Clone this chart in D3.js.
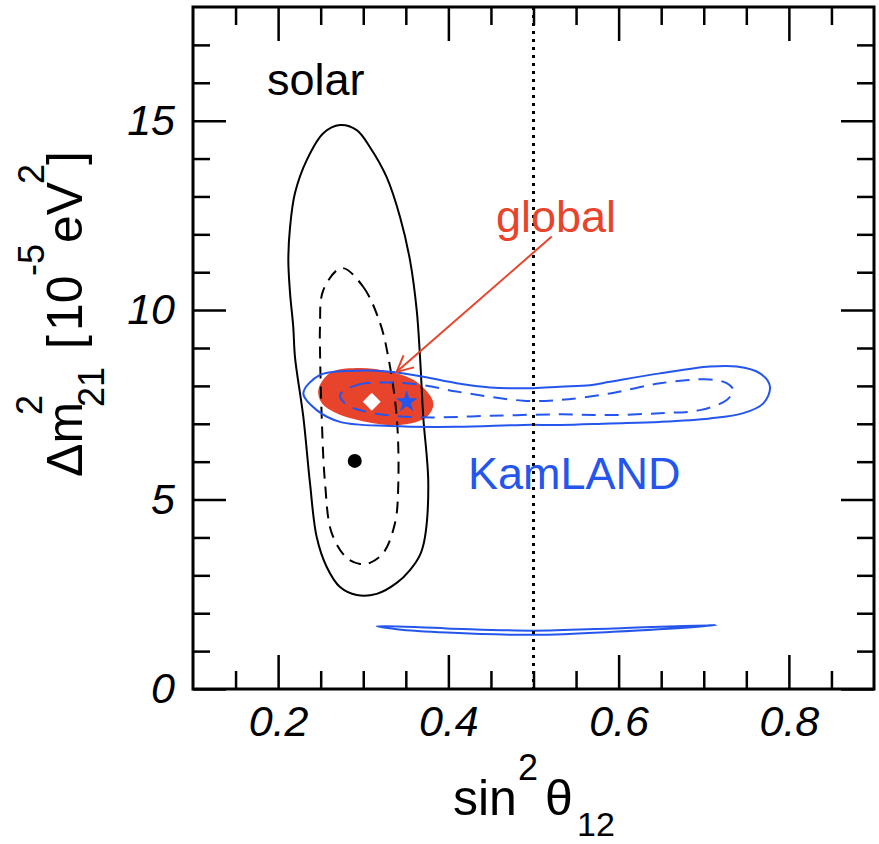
<!DOCTYPE html>
<html>
<head>
<meta charset="utf-8">
<script src="https://cdn.jsdelivr.net/npm/d3@7"></script>
<style>
body { margin: 0; background: #fff; }
svg text { font-family: "Liberation Sans", Arial, Helvetica, sans-serif; }
</style>
</head>
<body>
<svg width="879" height="844"></svg>
<script>
// tick values
var xMajor = [0.2, 0.4, 0.6, 0.8];
var xMinor = [0.15, 0.25, 0.3, 0.35, 0.45, 0.5, 0.55, 0.65, 0.7, 0.75, 0.85];
var yMajor = [0, 5, 10, 15];
var yMinor = [1, 2, 3, 4, 6, 7, 8, 9, 11, 12, 13, 14, 16, 17];

// solar contours [sin2theta, dm2]
var solarOuter = [
	[0.2727, 14.885], [0.2923, 14.75], [0.3079, 14.30], [0.3275, 13.51], [0.3432, 12.46],
	[0.3549, 11.32], [0.3628, 10.00], [0.3667, 8.76], [0.3705, 7.18], [0.3764, 5.44],
	[0.3725, 4.01], [0.3667, 3.54], [0.3549, 3.14], [0.3393, 2.80], [0.3158, 2.51],
	[0.2923, 2.48], [0.2727, 2.69], [0.2571, 3.22], [0.2453, 4.01], [0.2374, 5.44],
	[0.2296, 7.18], [0.2198, 8.76], [0.2178, 9.55], [0.2140, 10.45], [0.2120, 11.32],
	[0.2140, 12.19], [0.2198, 13.09], [0.2336, 13.96], [0.2531, 14.67]
];
var solarInner = [
	[0.2747, 11.11], [0.3001, 10.61], [0.3197, 9.66], [0.3294, 8.76], [0.3393, 7.18],
	[0.3412, 5.44], [0.3373, 4.38], [0.3236, 3.59], [0.3079, 3.33], [0.2962, 3.30],
	[0.2806, 3.46], [0.2629, 4.12], [0.2551, 5.44], [0.2512, 7.18], [0.2492, 8.95],
	[0.2492, 9.55], [0.2531, 10.53]
];
var solarBest = [0.29, 6.02];

// KamLAND contours
var kamOuter = [
	[0.2296, 7.80], [0.2492, 8.29], [0.2923, 8.40], [0.3314, 8.37], [0.3705, 8.24],
	[0.4098, 8.07], [0.4489, 7.96], [0.4998, 7.94], [0.5311, 7.98], [0.5664, 8.02],
	[0.5899, 8.11], [0.6486, 8.33], [0.7073, 8.51], [0.7387, 8.51], [0.7661, 8.33],
	[0.7778, 7.98], [0.7700, 7.54], [0.7465, 7.28], [0.7073, 7.14], [0.6486, 7.05],
	[0.5899, 7.01], [0.5311, 6.97], [0.4880, 6.97], [0.4098, 6.92], [0.3314, 6.94],
	[0.2727, 7.05], [0.2453, 7.36]
];
var kamInner = [
	[0.2727, 7.76], [0.2923, 8.02], [0.3314, 8.09], [0.3705, 8.02], [0.4098, 7.85],
	[0.4880, 7.61], [0.5311, 7.63], [0.5899, 7.80], [0.6486, 8.07], [0.7073, 8.17],
	[0.7270, 8.07], [0.7347, 7.89], [0.7270, 7.63], [0.6956, 7.36], [0.6486, 7.28],
	[0.5899, 7.23], [0.5311, 7.25], [0.4489, 7.21], [0.3705, 7.17], [0.3118, 7.28],
	[0.2806, 7.50]
];
var kamLow = [
	[0.3158, 1.66], [0.3980, 1.60], [0.4998, 1.54], [0.5937, 1.60], [0.7152, 1.69],
	[0.5937, 1.51], [0.4998, 1.43], [0.3980, 1.49], [0.3393, 1.58]
];
var kamBest = [0.351, 7.58];

// global region
var globalRegion = [
	[0.2472, 7.89], [0.2609, 8.34], [0.2923, 8.47], [0.3314, 8.37], [0.3628, 8.10],
	[0.3823, 7.55], [0.3745, 7.18], [0.3432, 6.97], [0.3041, 7.05], [0.2688, 7.28],
	[0.2512, 7.55]
];
var globalBest = [0.31, 7.58];
var arrowFrom = [0.5214, 11.94];
var arrowTo = [0.3393, 8.37];
var maximal = 0.5;

var red = "#e8432b";
var blue = "#2456ee";

var svg = d3.select("svg");
var pLeft = 193, pRight = 874, pTop = 7, pBottom = 689;

var x = d3.scaleLinear().domain([0.1, 0.9]).range([pLeft, pRight]);
var y = d3.scaleLinear().domain([0, 18]).range([pBottom, pTop]);

var line = d3.line()
	.x(function(d) { return x(d[0]); })
	.y(function(d) { return y(d[1]); })
	.curve(d3.curveCatmullRomClosed.alpha(0.5));

svg.append("clipPath").attr("id", "plot")
	.append("rect").attr("x", pLeft).attr("y", pTop)
	.attr("width", pRight - pLeft).attr("height", pBottom - pTop);

var plot = svg.append("g").attr("clip-path", "url(#plot)");

// global filled region
plot.append("path").datum(globalRegion)
	.attr("d", line).attr("fill", red).attr("stroke", "none");

// solar
plot.append("path").datum(solarOuter)
	.attr("d", line).attr("fill", "none")
	.attr("stroke", "#000").attr("stroke-width", 2);
plot.append("path").datum(solarInner)
	.attr("d", line).attr("fill", "none")
	.attr("stroke", "#000").attr("stroke-width", 2)
	.attr("stroke-dasharray", "12,8");

// KamLAND
plot.append("path").datum(kamOuter)
	.attr("d", line).attr("fill", "none")
	.attr("stroke", blue).attr("stroke-width", 2);
plot.append("path").datum(kamInner)
	.attr("d", line).attr("fill", "none")
	.attr("stroke", blue).attr("stroke-width", 2)
	.attr("stroke-dasharray", "14,9");
plot.append("path").datum(kamLow)
	.attr("d", line).attr("fill", "none")
	.attr("stroke", blue).attr("stroke-width", 2);

// maximal mixing line
plot.append("line")
	.attr("x1", x(maximal)).attr("x2", x(maximal))
	.attr("y1", pTop).attr("y2", pBottom)
	.attr("stroke", "#000").attr("stroke-width", 3)
	.attr("stroke-dasharray", "3,5");

// best fit points
plot.append("circle")
	.attr("cx", x(solarBest[0])).attr("cy", y(solarBest[1]))
	.attr("r", 7).attr("fill", "#000");
plot.append("path")
	.attr("d", d3.symbol().type(d3.symbolSquare).size(160)())
	.attr("transform", "translate(" + x(globalBest[0]) + "," + y(globalBest[1]) + ") rotate(45)")
	.attr("fill", "#fff");
plot.append("path")
	.attr("d", d3.symbol().type(d3.symbolStar).size(150)())
	.attr("transform", "translate(" + x(kamBest[0]) + "," + y(kamBest[1]) + ")")
	.attr("fill", blue);

// arrow
svg.append("defs").append("marker")
	.attr("id", "head").attr("viewBox", "0 0 20 20")
	.attr("refX", 18).attr("refY", 10)
	.attr("markerWidth", 20).attr("markerHeight", 20)
	.attr("markerUnits", "userSpaceOnUse")
	.attr("orient", "auto")
	.append("path").attr("d", "M2,2 L18,10 L2,18")
	.attr("fill", "none").attr("stroke", red).attr("stroke-width", 2);

svg.append("line")
	.attr("x1", x(arrowFrom[0])).attr("y1", y(arrowFrom[1]))
	.attr("x2", x(arrowTo[0])).attr("y2", y(arrowTo[1]))
	.attr("stroke", red).attr("stroke-width", 2)
	.attr("marker-end", "url(#head)");

// labels
svg.append("text").attr("x", 267).attr("y", 95)
	.attr("font-size", 45).attr("fill", "#000").text("solar");
svg.append("text").attr("x", 496).attr("y", 232)
	.attr("font-size", 45).attr("fill", red).text("global");
svg.append("text").attr("x", 468).attr("y", 489)
	.attr("font-size", 45).attr("fill", blue).text("KamLAND");

// axes
var axes = [
	[d3.axisBottom(x), "translate(0," + pBottom + ")", xMajor, xMinor, 34, 18, true, 16],
	[d3.axisTop(x), "translate(0," + pTop + ")", xMajor, xMinor, 34, 18, false, 0],
	[d3.axisLeft(y), "translate(" + pLeft + ",0)", yMajor, yMinor, 33, 17, true, 18],
	[d3.axisRight(y), "translate(" + pRight + ",0)", yMajor, yMinor, 33, 17, false, 0]
];

axes.forEach(function(a) {
	var gMaj = svg.append("g").attr("transform", a[1])
		.call(a[0].tickValues(a[2]).tickSize(-a[4]).tickPadding(a[7])
			.tickFormat(a[6] ? d3.format("") : ""));
	gMaj.select(".domain").remove();
	gMaj.selectAll("line").attr("stroke-width", 2.5);
	gMaj.selectAll("text")
		.attr("font-size", 43).attr("font-style", "italic")
		.attr("font-family", "Liberation Sans, Arial, sans-serif")
		.attr("fill", "#000");

	var gMin = svg.append("g").attr("transform", a[1])
		.call(a[0].tickValues(a[3]).tickSize(-a[5]).tickFormat(""));
	gMin.select(".domain").remove();
	gMin.selectAll("line").attr("stroke-width", 2.5);
});

// frame
svg.append("rect")
	.attr("x", pLeft).attr("y", pTop)
	.attr("width", pRight - pLeft).attr("height", pBottom - pTop)
	.attr("fill", "none").attr("stroke", "#000").attr("stroke-width", 3);

// x title
var xt = svg.append("g");
xt.append("text").attr("x", 453).attr("y", 815).attr("font-size", 50).text("sin");
xt.append("text").attr("x", 518).attr("y", 780).attr("font-size", 36).text("2");
xt.append("text").attr("x", 545).attr("y", 815).attr("font-size", 50).text("θ");
xt.append("text").attr("x", 577).attr("y", 836).attr("font-size", 34).text("12");

// y title
var yt = svg.append("g").attr("transform", "translate(82,477) rotate(-90)");
yt.append("text").attr("x", 0).attr("y", 0).attr("font-size", 50).text("Δm");
yt.append("text").attr("x", 62).attr("y", -40).attr("font-size", 36).text("2");
yt.append("text").attr("x", 70).attr("y", 22).attr("font-size", 36).text("21");
yt.append("text").attr("x", 128).attr("y", 0).attr("font-size", 50).text("[");
yt.append("text").attr("x", 146).attr("y", 0).attr("font-size", 50).text("10");
yt.append("text").attr("x", 201).attr("y", -38).attr("font-size", 36).text("-5");
yt.append("text").attr("x", 234).attr("y", 0).attr("font-size", 50).text("eV");
yt.append("text").attr("x", 293).attr("y", -38).attr("font-size", 36).text("2");
yt.append("text").attr("x", 312).attr("y", 0).attr("font-size", 50).text("]");
</script>
</body>
</html>
